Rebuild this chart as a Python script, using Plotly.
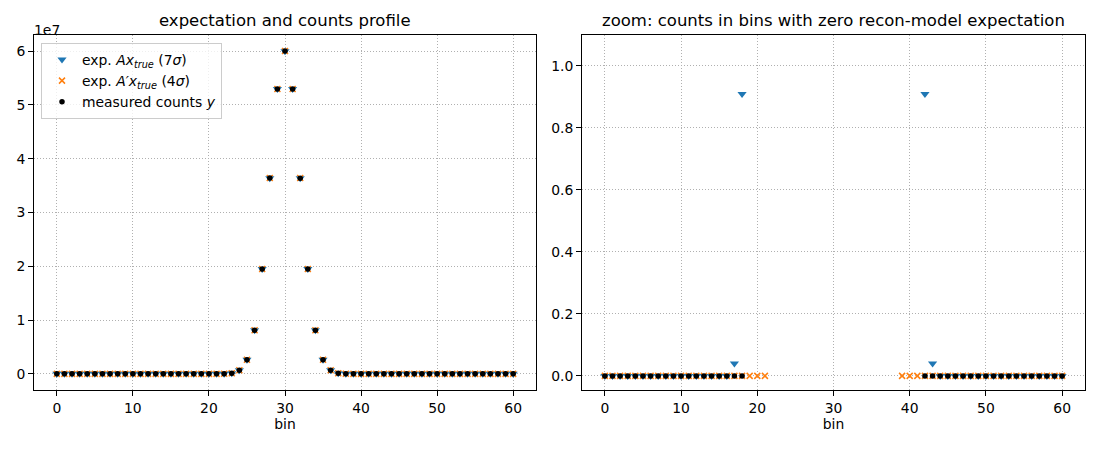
import plotly.graph_objects as go

bins = list(range(61))

exp_A = [0, 0, 0, 0, 0, 0, 0, 0, 0, 0, 0, 0, 0, 0, 0, 0, 0,
         0.04, 0.91, 16.2, 223, 2400, 20100, 131000, 667000, 2636000,
         8120000, 19480000, 36390000, 52950000, 60000000,
         52950000, 36390000, 19480000, 8120000, 2636000, 667000, 131000,
         20100, 2400, 223, 16.2, 0.91, 0.04,
         0, 0, 0, 0, 0, 0, 0, 0, 0, 0, 0, 0, 0, 0, 0, 0, 0]

exp_Aprime = [0, 0, 0, 0, 0, 0, 0, 0, 0, 0, 0, 0, 0, 0, 0, 0, 0,
              0, 0, 0, 0, 0, 20110, 131050, 667200, 2637000,
              8123000, 19490000, 36400000, 52970000, 60020000,
              52970000, 36400000, 19490000, 8123000, 2637000, 667200, 131050,
              20110, 0, 0, 0, 0, 0,
              0, 0, 0, 0, 0, 0, 0, 0, 0, 0, 0, 0, 0, 0, 0, 0, 0]

counts_y = [0, 0, 0, 0, 0, 0, 0, 0, 0, 0, 0, 0, 0, 0, 0, 0, 0,
            0, 0, 17, 231, 2387, 20046, 130712, 667512, 2634891,
            8118406, 19482170, 36393010, 52948775, 60003214,
            52953102, 36386541, 19477893, 8121776, 2637425, 666904, 131249,
            20137, 2412, 219, 15, 0, 0,
            0, 0, 0, 0, 0, 0, 0, 0, 0, 0, 0, 0, 0, 0, 0, 0, 0]

left_yticks = [0, 1e7, 2e7, 3e7, 4e7, 5e7, 6e7]
left_yticklabels = ["0", "1", "2", "3", "4", "5", "6"]
right_yticks = [0.0, 0.2, 0.4, 0.6, 0.8, 1.0]
xticks = [0, 10, 20, 30, 40, 50, 60]

names = ["exp. <i>Ax</i><sub><i>true</i></sub> (7<i>σ</i>)",
         "exp. <i>A′x</i><sub><i>true</i></sub> (4<i>σ</i>)",
         "measured counts <i>y</i>"]

BLUE = "#1f77b4"
ORANGE = "#ff7f0e"
FONT = "DejaVu Sans"
FS = 13.9

fig = go.Figure()

for xa, ya, show in [("x", "y", True), ("x2", "y2", False)]:
    fig.add_trace(go.Scatter(x=bins, y=exp_A, mode="markers", name=names[0],
                             xaxis=xa, yaxis=ya, showlegend=show,
                             marker=dict(symbol="triangle-down", size=8, color=BLUE,
                                         line=dict(width=0))))
    fig.add_trace(go.Scatter(x=bins, y=exp_Aprime, mode="markers", name=names[1],
                             xaxis=xa, yaxis=ya, showlegend=show,
                             marker=dict(symbol="x-thin", size=6, color=ORANGE,
                                         line=dict(width=1.5, color=ORANGE))))
    fig.add_trace(go.Scatter(x=bins, y=counts_y, mode="markers", name=names[2],
                             xaxis=xa, yaxis=ya, showlegend=show,
                             marker=dict(symbol="circle", size=5.5, color="black",
                                         line=dict(width=0))))

W, H = 1100, 450
axis_common = dict(showline=True, linecolor="black", linewidth=1, mirror=True,
                   ticks="outside", ticklen=5, tickwidth=1, tickcolor="black",
                   showgrid=True, gridcolor="#b0b0b0", griddash="1px,2px", gridwidth=0.8,
                   zeroline=False, tickfont=dict(family=FONT, size=FS, color="black"))

x1 = [34 / W, 536 / W]
x2 = [582 / W, 1085 / W]
yd = [1 - 390 / H, 1 - 35 / H]

fig.update_layout(
    width=W, height=H,
    margin=dict(l=0, r=0, t=0, b=0),
    paper_bgcolor="white", plot_bgcolor="white",
    font=dict(family=FONT, size=FS, color="black"),
    xaxis=dict(domain=x1, range=[-3, 63], tickvals=xticks, anchor="y",
               title=dict(text="bin", standoff=4, font=dict(size=FS)), **axis_common),
    yaxis=dict(domain=yd, range=[-3.0e6, 6.3e7], tickvals=left_yticks,
               ticktext=left_yticklabels, anchor="x", **axis_common),
    xaxis2=dict(domain=x2, range=[-3, 63], tickvals=xticks, anchor="y2",
                title=dict(text="bin", standoff=4, font=dict(size=FS)), **axis_common),
    yaxis2=dict(domain=yd, range=[-0.0455, 1.1], tickvals=right_yticks,
                tickformat=".1f", anchor="x2", **axis_common),
    legend=dict(x=41 / W, y=1 - 43 / H, xanchor="left", yanchor="top",
                bgcolor="rgba(255,255,255,0.8)", bordercolor="#cccccc", borderwidth=1,
                font=dict(family=FONT, size=FS), tracegroupgap=0,
                itemwidth=30),
    showlegend=True,
    annotations=[
        dict(text="expectation and counts profile", x=(x1[0] + x1[1]) / 2, y=1 - 21 / H,
             xref="paper", yref="paper", showarrow=False, xanchor="center", yanchor="middle",
             font=dict(family=FONT, size=16.5)),
        dict(text="zoom: counts in bins with zero recon-model expectation",
             x=(x2[0] + x2[1]) / 2, y=1 - 21 / H,
             xref="paper", yref="paper", showarrow=False, xanchor="center", yanchor="middle",
             font=dict(family=FONT, size=16.5)),
        dict(text="1e7", x=32 / W, y=1 - 30 / H, xref="paper", yref="paper",
             showarrow=False, xanchor="left", yanchor="middle",
             font=dict(family=FONT, size=FS)),
    ],
)

fig.write_html("out.html")
